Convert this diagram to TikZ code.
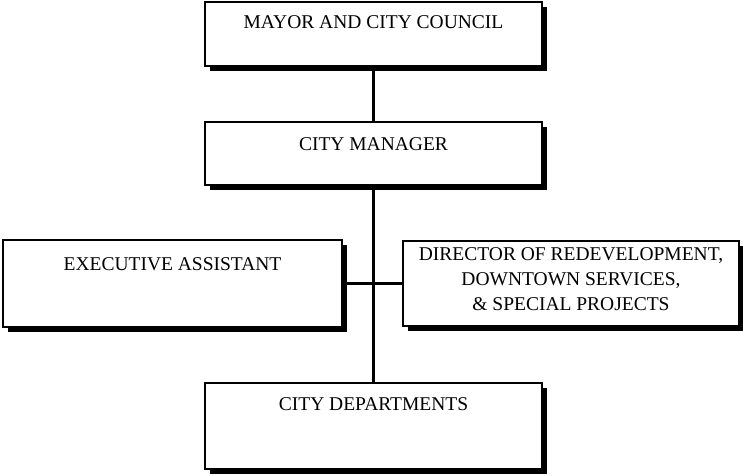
\documentclass[tikz,border=0pt]{standalone}
\usepackage{fontspec}
\setmainfont{Liberation Serif}
\usetikzlibrary{positioning,shadows}
\tikzset{
  orgbox/.style 2 args={draw, line width=2pt, fill=white, inner sep=0pt,
    minimum width=#1, minimum height=#2,
    drop shadow={shadow xshift=5pt, shadow yshift=-5pt, fill=black, opacity=1}},
  boxtext/.style={font=\fontsize{19.5}{25}\selectfont, inner sep=0pt, align=center},
  orgline/.style={line width=2.5pt}
}
\begin{document}
\begin{tikzpicture}[x=1pt, y=-1pt]
\useasboundingbox (0,0) rectangle (743,475);
% boxes
\node[orgbox={337pt}{64pt}] (mayor) at (373.5,34) {};
\node[orgbox={337pt}{63pt}] (manager) at (373.5,153.5) {};
\node[orgbox={339pt}{87pt}] (exec) at (172.5,283.5) {};
\node[orgbox={336pt}{85pt}] (director) at (571,283.5) {};
\node[orgbox={337pt}{86pt}] (depts) at (373.5,426) {};
% texts
\node[boxtext, below=14pt of mayor.north] (mayortxt) {MAYOR AND CITY COUNCIL};
\node[boxtext, below=16pt of manager.north] (managertxt) {CITY MANAGER};
\node[boxtext, below=18pt of exec.north] (exectxt) {EXECUTIVE ASSISTANT};
\node[boxtext, below=7pt of director.north] (directortxt) {DIRECTOR OF REDEVELOPMENT,\\DOWNTOWN SERVICES,\\\& SPECIAL PROJECTS};
\node[boxtext, below=15pt of depts.north] (deptstxt) {CITY DEPARTMENTS};
% connectors
\draw[orgline] (mayor) -- (manager);
\draw[orgline] (manager) -- (depts);
\draw[orgline] (exec) -- (director);
\end{tikzpicture}
\end{document}
